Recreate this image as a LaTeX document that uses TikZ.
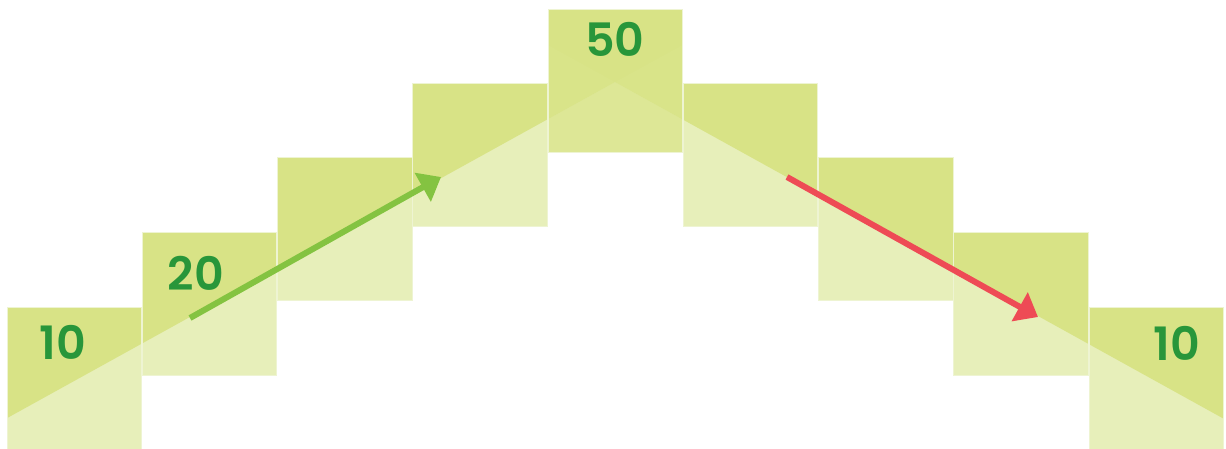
\documentclass[tikz,border=0pt]{standalone}
\usepackage{fontspec}
\newfontfamily\numfont{Poppins}[UprightFont=* SemiBold, BoldFont=* SemiBold]
\usetikzlibrary{arrows.meta}
\definecolor{darkg}{HTML}{D8E386}
\definecolor{lightg}{HTML}{E7EFBA}
\definecolor{midg}{HTML}{DDE796}
\definecolor{sideg}{HTML}{D9E489}
\definecolor{edgeg}{HTML}{EEF4D2}
\definecolor{txtg}{HTML}{28963A}
\definecolor{garrow}{HTML}{84C341}
\definecolor{rarrow}{HTML}{EE4B55}
\begin{document}
\begin{tikzpicture}[x=1pt,y=-1pt,
  num/.style={font=\numfont\fontsize{46}{50}\selectfont, text=txtg, inner sep=0pt},
  flow/.style={line width=6, -{Triangle[length=21,width=32]}}]
\useasboundingbox (0,0) rectangle (1226,448);
% base squares
\foreach \i/\t [evaluate=\i as \x using 7+135.25*\i] in {0/307,1/232,2/157,3/83,4/9,5/83,6/157,7/232,8/307}{
  \fill[lightg] (\x,\t) rectangle ++(134.5,143.5);
}
% darker upper part above the chevron
\begin{scope}
  \clip \foreach \i/\t [evaluate=\i as \x using 7+135.25*\i] in {0/307,1/232,2/157,3/83,4/9,5/83,6/157,7/232,8/307}{(\x,\t) rectangle ++(134.5,143.5)};
  \fill[darkg] (0,0) -- (0,422) -- (615,82) -- (1226,420) -- (1226,0) -- cycle;
\end{scope}
% peak square details
\fill[midg] (548,119) -- (615,82) -- (682.5,119.3) -- (682.5,152.5) -- (548,152.5) -- cycle;
\fill[sideg] (548,45) -- (615,82) -- (548,119) -- cycle;
\fill[sideg] (682.5,45) -- (615,82) -- (682.5,119.3) -- cycle;
% square edges
\foreach \i/\t [evaluate=\i as \x using 7+135.25*\i] in {0/307,1/232,2/157,3/83,4/9,5/83,6/157,7/232,8/307}{
  \draw[edgeg, line width=0.8] (\x,\t) rectangle ++(134.5,143.5);
}
% labels
\node[num] (n1) at (63,342) {10};
\node[num] (n2) at (196,273) {20};
\node[num] (n5) at (615,39) {50};
\node[num] (n9) at (1177,343) {10};
% arrows
\coordinate (ga) at (190,318);
\coordinate (gb) at (441,177);
\coordinate (ra) at (787,177);
\coordinate (rb) at (1038,317);
\draw[flow, garrow] (ga) -- (gb);
\draw[flow, rarrow] (ra) -- (rb);
\end{tikzpicture}
\end{document}
